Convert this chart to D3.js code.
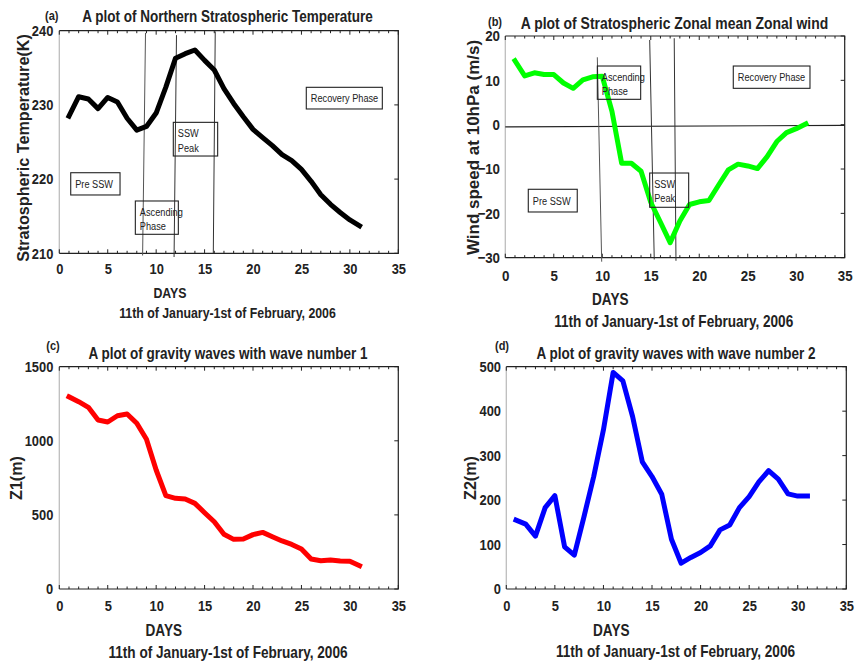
<!DOCTYPE html>
<html>
<head>
<meta charset="utf-8">
<script src="https://cdn.jsdelivr.net/npm/d3@7"></script>
<style>
  html, body { margin: 0; padding: 0; background: #fff; }
  svg { display: block; }
  text { font-family: "Liberation Sans", Arial, sans-serif; fill: #222; }
</style>
</head>
<body>
<svg id="fig" width="855" height="665"></svg>
<script>
// Days 1..31 (11 Jan - 1 Feb 2006)
const days = d3.range(1, 32);

// (a) Northern stratospheric temperature (K)
const temperature = [228.5, 231.1, 230.8, 229.5, 231.0, 230.4, 228.2, 226.6, 227.1, 228.9,
  232.4, 236.3, 236.9, 237.4, 236.0, 234.7, 232.2, 230.2, 228.4, 226.7,
  225.6, 224.5, 223.3, 222.5, 221.3, 219.7, 217.9, 216.6, 215.5, 214.5, 213.7];

// (b) Zonal mean zonal wind at 10 hPa (m/s)
const zonalWind = [14.4, 11.0, 11.7, 11.3, 11.3, 9.4, 8.2, 10.1, 10.8, 10.9,
  3.0, -8.7, -8.7, -10.5, -17.5, -22.0, -26.6, -21.7, -18.0, -17.4,
  -17.1, -13.6, -10.2, -8.9, -9.3, -9.9, -7.2, -3.8, -1.8, -0.9, 0.2];

// (c) Gravity wave amplitude, wave number 1 (m)
const waveOne = [1297, 1264, 1226, 1140, 1127, 1169, 1181, 1118, 1010, 803,
  630, 612, 607, 578, 515, 454, 369, 335, 337, 367,
  382, 353, 324, 301, 270, 202, 191, 196, 189, 187, 157];

// (d) Gravity wave amplitude, wave number 2 (m)
const waveTwo = [155, 146, 119, 183, 210, 95, 76, 163, 253, 358,
  487, 468, 388, 286, 253, 213, 112, 58, 71, 82,
  97, 133, 144, 183, 208, 241, 266, 247, 214, 209, 209];

const xTicks = [0, 5, 10, 15, 20, 25, 30, 35];
const tempTicks = [210, 220, 230, 240];
const windTicks = [-30, -20, -10, 0, 10, 20];
const waveOneTicks = [0, 500, 1000, 1500];
const waveTwoTicks = [0, 100, 200, 300, 400, 500];

// Phase boxes: [day0, value0, day1, value1, lines]
const tempPhases = [
  [1.18, 220.86, 6.27, 217.86, ["Pre SSW"]],
  [7.85, 217.05, 12.29, 212.56, ["Ascending", "Phase"]],
  [11.77, 227.65, 16.35, 223.11, ["SSW", "Peak"]],
  [25.5, 232.37, 33.35, 229.45, ["Recovery Phase"]]
];
const windPhases = [
  [2.37, -14.57, 7.42, -19.69, ["Pre SSW"]],
  [9.49, 13.23, 13.96, 5.72, ["Ascending", "Phase"]],
  [14.89, -10.9, 18.91, -18.63, ["SSW", "Peak"]],
  [23.51, 13.23, 31.42, 8.2, ["Recovery Phase"]]
];
// Phase boundary lines: [day top, value top, day bottom, value bottom]
const tempBounds = [
  [8.9, 239.7, 8.6, 209.7],
  [12.1, 239.4, 11.85, 209.5],
  [16.1, 239.9, 15.9, 210.0]
];
const windBounds = [
  [9.49, 15.2, 9.94, -30.9],
  [14.89, 19.1, 15.36, -30.4],
  [17.42, 19.5, 17.6, -30.7]
];
const windZero = [0, -0.5, 35, -0.15];

const svg = d3.select("#fig");

// Condensed text: horizontally squeezed sans, like a narrow face
function narrow(g, str, x, y, o) {
  const sx = o.sx || 0.84;
  const rot = o.rotate ? " rotate(-90)" : "";
  return g.append("g").attr("transform", `translate(${x},${y})${rot} scale(${sx},1)`)
    .append("text").attr("text-anchor", o.anchor || "middle").attr("dy", "0.35em")
    .attr("font-weight", o.weight || "bold").attr("font-size", o.size).text(str);
}

function panel(o) {
  const g = svg.append("g");
  const x = d3.scaleLinear().domain([0, 35]).range([o.left, o.right]);
  const y = d3.scaleLinear().domain(o.yDomain).range([o.bottom, o.top]);

  // frame: light left spine, dark others
  g.append("line").attr("x1", o.left).attr("x2", o.left).attr("y1", o.top).attr("y2", o.bottom)
    .attr("stroke", "#bdbdbd").attr("stroke-width", 1.3);
  g.append("path")
    .attr("d", `M${o.left},${o.top}H${o.right}V${o.bottom}H${o.left}`)
    .attr("fill", "none").attr("stroke", "#222").attr("stroke-width", 1.2);

  // inward ticks: every day along top/bottom, majors along the right side
  d3.range(0, 36).forEach(d => {
    const len = d % 5 === 0 ? 4 : 2.5;
    g.append("line").attr("x1", x(d)).attr("x2", x(d)).attr("y1", o.bottom).attr("y2", o.bottom - len)
      .attr("stroke", "#222").attr("stroke-width", 1);
    g.append("line").attr("x1", x(d)).attr("x2", x(d)).attr("y1", o.top).attr("y2", o.top + len)
      .attr("stroke", "#222").attr("stroke-width", 1);
  });
  o.yTicks.forEach(v => {
    g.append("line").attr("x1", o.right).attr("x2", o.right - 4).attr("y1", y(v)).attr("y2", y(v))
      .attr("stroke", "#222").attr("stroke-width", 1);
  });

  // tick labels via d3 axes (frame drawn separately)
  const xa = g.append("g").attr("transform", `translate(0,${o.bottom})`)
    .call(d3.axisBottom(x).tickValues(xTicks).tickFormat(d3.format("d")).tickSize(0).tickPadding(o.xPad));
  const ya = g.append("g").attr("transform", `translate(${o.left - o.yPad},0)`)
    .call(d3.axisLeft(y).tickValues(o.yTicks).tickFormat(d3.format("d")).tickSize(0).tickPadding(0));
  [xa, ya].forEach(a => {
    a.select(".domain").remove();
    a.selectAll("text").attr("font-family", "'Liberation Sans', Arial, sans-serif")
      .attr("font-weight", "bold").attr("font-size", o.tickFont).attr("fill", "#222")
      .attr("transform", "scale(0.86,1)");
  });

  // reference lines
  if (o.zero) {
    g.append("line").attr("x1", x(o.zero[0])).attr("y1", y(o.zero[1]))
      .attr("x2", x(o.zero[2])).attr("y2", y(o.zero[3]))
      .attr("stroke", "#222").attr("stroke-width", 1.1);
  }
  (o.bounds || []).forEach((b, i) => {
    g.append("line").attr("x1", x(b[0])).attr("y1", y(b[1])).attr("x2", x(b[2])).attr("y2", y(b[3]))
      .attr("stroke", i === 0 ? "#555" : "#333").attr("stroke-width", 1);
  });

  // series
  const line = d3.line().x((d, i) => x(days[i])).y(d => y(d));
  g.append("path").datum(o.values).attr("d", line)
    .attr("fill", "none").attr("stroke", o.color).attr("stroke-width", 5)
    .attr("stroke-linejoin", "round").attr("stroke-linecap", "square");

  // phase boxes
  (o.phases || []).forEach(p => {
    const bx = x(p[0]), by = y(p[1]), bw = x(p[2]) - x(p[0]), bh = y(p[3]) - y(p[1]);
    g.append("rect").attr("x", bx).attr("y", by).attr("width", bw).attr("height", bh)
      .attr("fill", "none").attr("stroke", "#222").attr("stroke-width", 1.1);
    const lines = p[4];
    lines.forEach((t, k) => {
      const cy = lines.length === 1 ? by + bh / 2 : by + 11 + k * 14.3;
      narrow(g, t, bx + 4.5, cy, { size: 11.5, weight: "normal", anchor: "start", sx: 0.8 });
    });
  });

  // titles and labels
  narrow(g, o.tag, o.tagX, o.tagY, { size: 13, sx: 0.85 });
  narrow(g, o.title, o.titleX, o.titleY, { size: o.titleSize, sx: o.titleSx });
  narrow(g, "DAYS", o.daysX, o.daysY, { size: o.labSize, sx: 0.85 });
  narrow(g, "11th of January-1st of February, 2006", o.subX, o.subY, { size: o.labSize, sx: 0.85 });
  narrow(g, o.yLabel, o.yLabX, o.yLabY, { size: 17, sx: o.yLabSx, rotate: true });
}

panel({
  left: 59.3, right: 398.3, top: 30.7, bottom: 253.3,
  yDomain: [210, 240], yTicks: tempTicks, values: temperature, color: "#000",
  phases: tempPhases, bounds: tempBounds, xPad: 10, yPad: 6, tickFont: 15,
  tag: "(a)", tagX: 51.7, tagY: 15,
  title: "A plot of Northern Stratospheric Temperature", titleX: 227.5, titleY: 16.5, titleSize: 16.5, titleSx: 0.82,
  daysX: 170, daysY: 292.7, labSize: 14.5,
  subX: 227.5, subY: 313,
  yLabel: "Stratospheric Temperature(K)", yLabX: 23, yLabY: 148, yLabSx: 0.95
});

panel({
  left: 505.3, right: 844.7, top: 36, bottom: 257.7,
  yDomain: [-30, 20], yTicks: windTicks, values: zonalWind, color: "#0f0",
  phases: windPhases, bounds: windBounds, zero: windZero, xPad: 12, yPad: 5.3, tickFont: 15.5,
  tag: "(b)", tagX: 495, tagY: 21,
  title: "A plot of Stratospheric Zonal mean Zonal wind", titleX: 674.5, titleY: 23, titleSize: 17, titleSx: 0.82,
  daysX: 610.3, daysY: 299, labSize: 16,
  subX: 673.7, subY: 321.7,
  yLabel: "Wind speed at 10hPa (m/s)", yLabX: 473.3, yLabY: 147.5, yLabSx: 1.0
});

panel({
  left: 59.3, right: 398.3, top: 366.7, bottom: 589,
  yDomain: [0, 1500], yTicks: waveOneTicks, values: waveOne, color: "#ff0000",
  xPad: 11, yPad: 6, tickFont: 15,
  tag: "(c)", tagX: 53, tagY: 345,
  title: "A plot of gravity waves with wave number 1", titleX: 228, titleY: 353, titleSize: 16.5, titleSx: 0.82,
  daysX: 163.8, daysY: 630, labSize: 16,
  subX: 228, subY: 652.7,
  yLabel: "Z1(m)", yLabX: 16, yLabY: 478, yLabSx: 0.95
});

panel({
  left: 506.3, right: 846.3, top: 366.7, bottom: 589,
  yDomain: [0, 500], yTicks: waveTwoTicks, values: waveTwo, color: "#0000ff",
  xPad: 11, yPad: 5.3, tickFont: 15,
  tag: "(d)", tagX: 502, tagY: 345,
  title: "A plot of gravity waves with wave number 2", titleX: 676, titleY: 353, titleSize: 16.5, titleSx: 0.82,
  daysX: 611.3, daysY: 630, labSize: 16,
  subX: 675.5, subY: 651.7,
  yLabel: "Z2(m)", yLabX: 470, yLabY: 478, yLabSx: 0.95
});
</script>
</body>
</html>
